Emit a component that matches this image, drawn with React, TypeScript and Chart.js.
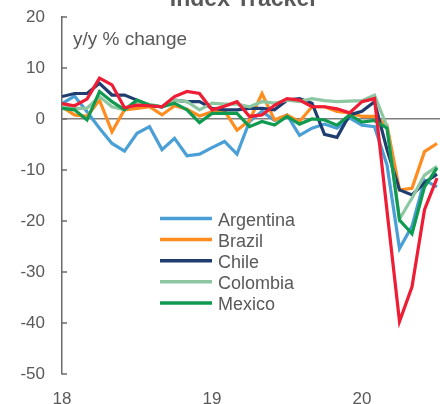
import React, { useEffect, useRef } from 'react';
import { Chart, registerables } from 'chart.js';

Chart.register(...registerables);

// ---------- data ----------
const months = [
  '2018-01', '2018-02', '2018-03', '2018-04', '2018-05', '2018-06', '2018-07', '2018-08', '2018-09', '2018-10', '2018-11', '2018-12',
  '2019-01', '2019-02', '2019-03', '2019-04', '2019-05', '2019-06', '2019-07', '2019-08', '2019-09', '2019-10', '2019-11', '2019-12',
  '2020-01', '2020-02', '2020-03', '2020-04', '2020-05', '2020-06', '2020-07',
];

const argentina = [3.0, 4.5, 1.4, -1.8, -4.8, -6.3, -2.8, -1.5, -6.0, -3.8, -7.2, -6.9, -5.6, -4.4, -6.9, -0.5, 1.5, -0.3, 0.8, -3.2, -1.8, -1.0, -1.8, 0.2, -1.2, -1.5, -9.0, -25.4, -21.0, -12.0, -13.3];
const brazil = [2.4, 0.8, 0.5, 3.7, -2.5, 1.8, 2.1, 2.4, 0.8, 2.6, 1.9, 0.6, 1.4, 1.6, -2.2, -0.3, 5.0, -0.2, 0.8, -0.5, 2.4, 2.4, 1.5, 1.2, 0.5, 0.5, -1.2, -13.9, -13.6, -6.4, -4.8];
const chile = [4.4, 5.0, 5.0, 7.0, 4.7, 4.7, 3.7, 2.7, 2.4, 3.7, 3.4, 3.4, 2.1, 1.8, 1.8, 2.1, 2.1, 1.8, 3.7, 4.0, 3.1, -3.0, -3.6, 0.8, 1.5, 3.4, -6.0, -13.9, -14.9, -12.5, -10.8];
const colombia = [2.4, 2.1, 2.1, 4.4, 2.4, 1.8, 3.4, 2.9, 2.4, 3.7, 3.4, 1.8, 3.1, 2.9, 2.9, 2.4, 3.4, 3.1, 3.7, 3.4, 4.0, 3.6, 3.4, 3.5, 3.6, 4.7, -1.5, -19.6, -15.5, -11.0, -9.3];
const mexico = [2.1, 1.8, -0.2, 5.4, 3.4, 1.8, 3.7, 2.7, 2.4, 3.1, 1.8, -0.7, 1.1, 1.1, 1.1, -1.5, -0.5, -1.2, 0.5, -1.0, 0.0, -0.2, -1.2, 0.8, -0.6, -0.3, -1.8, -19.8, -22.5, -13.3, -9.6];
const peru = [3.0, 2.6, 3.9, 8.0, 6.7, 2.2, 2.7, 2.6, 2.4, 4.4, 5.4, 5.0, 1.8, 2.5, 3.4, 0.5, 0.8, 2.7, 4.0, 3.7, 2.4, 2.4, 2.0, 1.2, 3.4, 4.0, -18.0, -39.7, -32.9, -17.8, -11.6];

const seriesNames = ['Argentina', 'Brazil', 'Chile', 'Colombia', 'Mexico', 'Peru'];
const seriesValues = [argentina, brazil, chile, colombia, mexico, peru];
const seriesColors = ['#4A9FD6', '#FF8C1F', '#1F3E6F', '#8DC7A2', '#0F9A50', '#EE1C34'];
const legendNames = ['Argentina', 'Brazil', 'Chile', 'Colombia', 'Mexico'];

const yTicks = [20, 10, 0, -10, -20, -30, -40, -50];
const xTicks = [18, 19, 20];
const xTickLabels = ['18', '19', '20'];

const titleText = 'Index Tracker';
const yAxisText = 'y/y % change';

const TEXT = '#595959';
const AXIS = '#6b6b6b';
const FONT = '"Liberation Sans", Arial, sans-serif';

function monthToX(m: string): number {
  const [yy, mm] = m.split('-').map(Number);
  return yy - 2000 + (mm - 1) / 12;
}

const decorPlugin = {
  id: 'decor',
  afterDraw(chart: any) {
    const { ctx, chartArea, scales } = chart;
    const y = scales.y;
    ctx.save();
    // inward tick marks on y axis
    ctx.strokeStyle = AXIS;
    ctx.lineWidth = 1.5;
    yTicks.forEach((v) => {
      const py = y.getPixelForValue(v);
      ctx.beginPath();
      ctx.moveTo(chartArea.left, py);
      ctx.lineTo(chartArea.left + 5, py);
      ctx.stroke();
    });
    // title (clipped at top)
    ctx.fillStyle = TEXT;
    ctx.font = `bold 23px ${FONT}`;
    ctx.textAlign = 'center';
    ctx.textBaseline = 'alphabetic';
    ctx.fillText(titleText, 244, 6);
    // axis unit label
    ctx.font = `19px ${FONT}`;
    ctx.textAlign = 'left';
    ctx.fillText(yAxisText, chartArea.left + 11, 45);
    // legend
    ctx.font = `18px ${FONT}`;
    legendNames.forEach((name, i) => {
      const idx = seriesNames.indexOf(name);
      const ly = 218.5 + i * 21.1;
      ctx.strokeStyle = seriesColors[idx];
      ctx.lineWidth = 3.5;
      ctx.beginPath();
      ctx.moveTo(160, ly);
      ctx.lineTo(212, ly);
      ctx.stroke();
      ctx.fillStyle = TEXT;
      ctx.fillText(name, 218, ly + 7);
    });
    ctx.restore();
  },
};

export default function App() {
  const ref = useRef<HTMLCanvasElement | null>(null);

  useEffect(() => {
    if (!ref.current) return;
    const xs = months.map(monthToX);
    const datasets = seriesNames.map((name, i) => ({
      label: name,
      data: seriesValues[i].map((v, j) => ({ x: xs[j], y: v })),
      borderColor: seriesColors[i],
      backgroundColor: seriesColors[i],
      borderWidth: 3.2,
      pointRadius: 0,
      tension: 0,
      fill: false,
      order: seriesNames.length - 1 - i,
    }));

    const chart = new Chart(ref.current, {
      type: 'line',
      data: { datasets },
      options: {
        responsive: false,
        animation: false,
        events: [],
        layout: { padding: { top: 17, right: 0, left: 0, bottom: 0 } },
        plugins: {
          legend: { display: false },
          tooltip: { enabled: false },
          title: { display: false },
        },
        scales: {
          x: {
            type: 'linear',
            min: 18,
            max: 20.52,
            afterBuildTicks: (s: any) => {
              s.ticks = xTicks.map((v) => ({ value: v }));
            },
            afterFit: (s: any) => {
              s.height = 30;
              s.paddingLeft = 0;
              s.paddingRight = 0;
            },
            ticks: {
              callback: (v: any) => xTickLabels[xTicks.indexOf(Number(v))] ?? '',
              font: { family: FONT, size: 17 },
              color: TEXT,
              padding: 15,
              maxRotation: 0,
              autoSkip: false,
            },
            grid: { display: false, drawTicks: false },
            border: { display: false },
          },
          y: {
            min: -50,
            max: 20,
            afterBuildTicks: (s: any) => {
              s.ticks = yTicks.map((v) => ({ value: v }));
            },
            afterFit: (s: any) => {
              s.width = 62;
              s.paddingTop = 0;
              s.paddingBottom = 0;
            },
            ticks: {
              font: { family: FONT, size: 17 },
              color: TEXT,
              padding: 17,
            },
            grid: {
              drawTicks: false,
              lineWidth: 1.5,
              color: (c: any) => (c.tick && c.tick.value === 0 ? '#7f7f7f' : 'rgba(0,0,0,0)'),
            },
            border: { display: true, color: AXIS, width: 1.5 },
          },
        },
      },
      plugins: [decorPlugin],
    });
    return () => chart.destroy();
  }, []);

  return (
    <div style={{ position: 'absolute', left: 0, top: 0, width: 440, height: 404, background: '#fff' }}>
      <canvas ref={ref} width={440} height={404} style={{ display: 'block' }} />
    </div>
  );
}
